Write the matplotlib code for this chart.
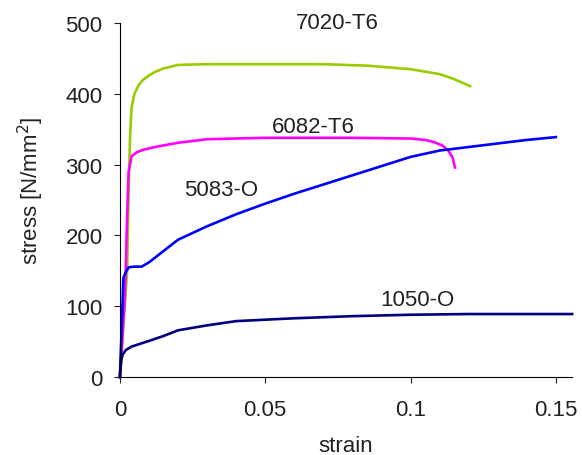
import matplotlib
matplotlib.use("Agg")
import matplotlib.pyplot as plt

# stress-strain curves
strain_7020 = [0, 0.002, 0.0025, 0.003, 0.0035, 0.004, 0.005, 0.0065, 0.008, 0.01, 0.012, 0.015, 0.02, 0.03,
               0.05, 0.07, 0.085, 0.1, 0.11, 0.115, 0.1205]
stress_7020 = [0, 120, 150, 260, 340, 380, 400, 413, 420, 426, 431, 436, 441, 442,
               442, 442, 440, 435, 428, 421, 411]

strain_6082 = [0, 0.0015, 0.002, 0.0025, 0.003, 0.004, 0.006, 0.008, 0.012, 0.016, 0.02, 0.03,
               0.05, 0.08, 0.1, 0.105, 0.108, 0.111, 0.113, 0.1145, 0.1153]
stress_6082 = [0, 100, 150, 230, 290, 312, 318, 321, 325, 328, 331, 336,
               338, 338, 337, 335, 332, 327, 320, 310, 296]

strain_5083 = [0, 0.0008, 0.0012, 0.002, 0.003, 0.005, 0.0075, 0.01, 0.015, 0.02, 0.03, 0.04,
               0.05, 0.06, 0.07, 0.08, 0.09, 0.1, 0.11, 0.12, 0.13, 0.14, 0.15]
stress_5083 = [0, 90, 140, 148, 155, 156, 156, 162, 178, 194, 213, 230,
               245, 259, 272, 285, 298, 311, 320, 325, 330, 335, 339]

strain_1050 = [0, 0.0005, 0.001, 0.002, 0.004, 0.007, 0.01, 0.015, 0.02, 0.03, 0.04,
               0.06, 0.08, 0.1, 0.12, 0.14, 0.1556]
stress_1050 = [0, 25, 32, 38, 43, 47, 51, 58, 66, 73, 79,
               83, 86, 88, 89, 89, 89]

labels = ["7020-T6", "6082-T6", "5083-O", "1050-O"]
label_pos = [(0.0747, 501), (0.0664, 354), (0.0348, 265), (0.1022, 110)]
colors = ["#99CC00", "#FF00FF", "#0000FF", "#000080"]

plt.rcParams['font.family'] = ['Liberation Sans', 'DejaVu Sans']

fig = plt.figure(figsize=(5.82, 4.56), dpi=100)
ax = fig.add_axes([0.206, 0.171, 0.777, 0.776])

series = [(strain_7020, stress_7020), (strain_6082, stress_6082),
          (strain_5083, stress_5083), (strain_1050, stress_1050)]
for (x, y), c in zip(series, colors):
    ax.plot(x, y, color=c, lw=1.9, clip_on=False)

for txt, (x, y) in zip(labels, label_pos):
    ax.text(x, y, txt, fontsize=16, ha='center', va='center', color='#222222', clip_on=False)

ax.set_xlim(0, 0.1556)
ax.set_ylim(0, 500)
ax.set_xticks([0, 0.05, 0.1, 0.15])
ax.set_xticklabels(["0", "0.05", "0.1", "0.15"])
ax.set_yticks([0, 100, 200, 300, 400, 500])
ax.spines['top'].set_visible(False)
ax.spines['right'].set_visible(False)
ax.tick_params(labelsize=16, length=4.5, direction='out', colors='#222222')
ax.tick_params(axis='x', pad=11)
ax.tick_params(axis='y', pad=8)
ax.set_xlabel("strain", fontsize=16, color='#222222', labelpad=11)
ax.set_ylabel("stress [N/mm$^2$]", fontsize=16, color='#222222')
ax.yaxis.set_label_coords(-0.163, 0.53)

fig.savefig("out.png", dpi=100)
